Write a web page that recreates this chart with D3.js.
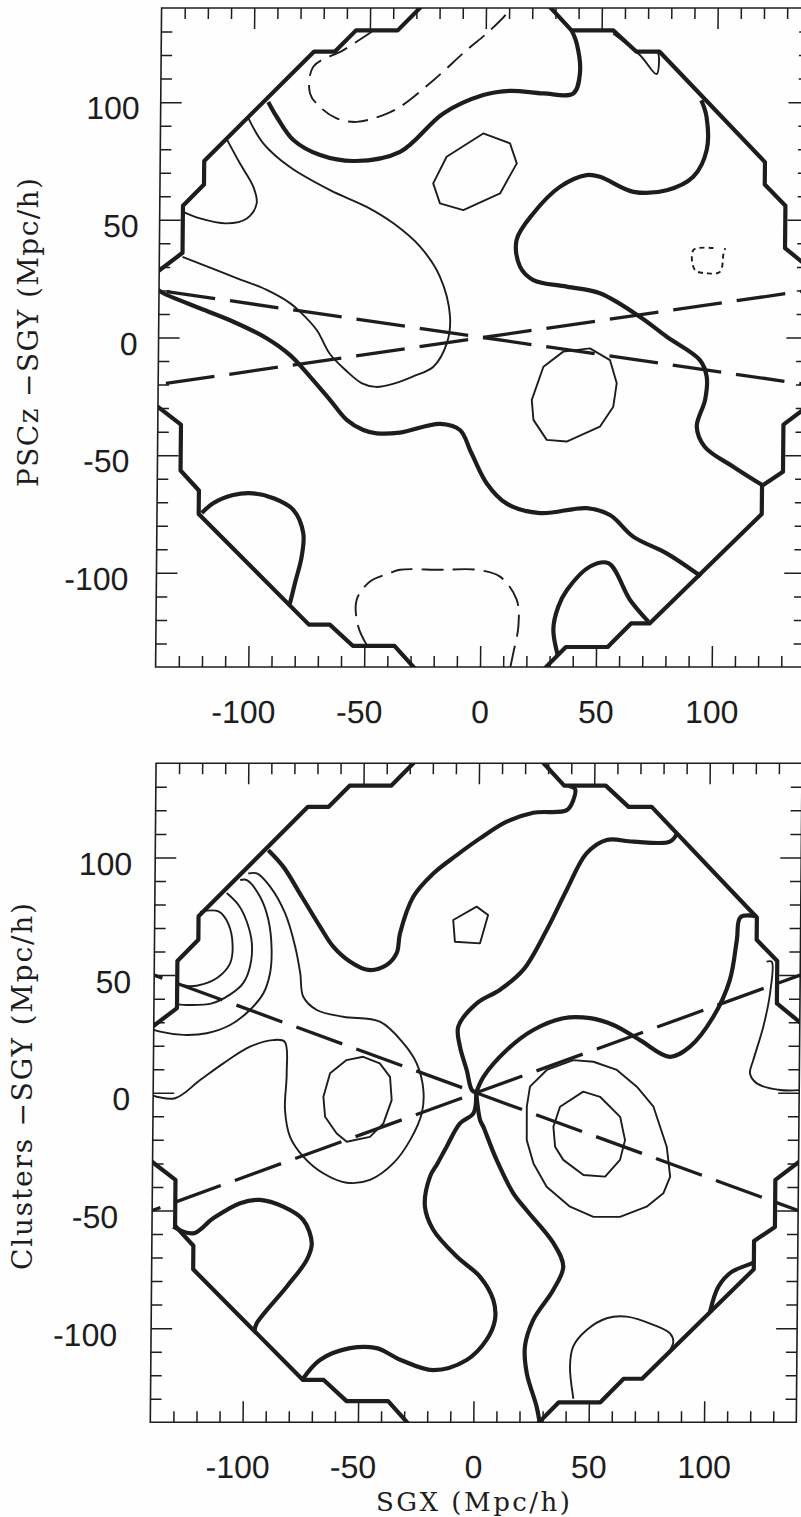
<!DOCTYPE html>
<html>
<head>
<meta charset="utf-8">
<script src="https://cdn.jsdelivr.net/npm/d3@7"></script>
<style>
  html, body { margin: 0; padding: 0; background: #fff; }
  svg { display: block; }
</style>
</head>
<body>
<svg id="chart" width="801" height="1517"></svg>
<script>
// ---------------- axis ticks ----------------
const majorTicks = [-100, -50, 0, 50, 100];
const minorTicks = [-130, -120, -110, -90, -80, -70, -60, -40, -30, -20, -10,
                    10, 20, 30, 40, 60, 70, 80, 90, 110, 120, 130];

// ---------------- survey edge (shared by both maps) ----------------
const surveyEdge = [
  [-150, 21], [-130, 36], [-130, 56], [-121, 65], [-121, 75], [-74, 121.5], [-65, 121.5],
  [-56, 130.5], [-38, 130.5], [-19, 149.5], [19, 149.5], [37, 130.5], [55, 130.5],
  [65, 121.5], [75, 121.5], [121, 74.5], [121, 65], [130, 56], [130, 38], [150, 22],
  [150, -22], [130, -37], [130, -57], [121, -63], [121, -75], [73, -121.5], [65, -121.5],
  [55, -131.5], [37, -131.5], [18, -150.5], [-19, -150.5], [-37, -131], [-55, -131],
  [-65, -122], [-74, -122], [-122, -75], [-122, -65], [-130, -56.5], [-130, -37], [-150, -22]
];

// ---------------- PSCz map ----------------
const psczZeroA = [[-93.6,100.1],[-89.9,93.8],[-82.6,83.9],[-71.0,77.5],[-55.9,75.0],[-36.5,78.9],[-18.0,95.2],[-0.8,103.0],[10.7,104.8],[25.1,103.7],[38.0,103.7],[40.8,112.2],[39.3,124.9],[37.0,130.6]];
const psczZeroE = [[-141,20.6],[-138.1,18.8],[-122.3,12.4],[-107.8,6.7],[-93.4,-0.3],[-83.3,-7.4],[-74.5,-16.6],[-65.8,-26.5],[-58.5,-35],[-51.3,-39.3],[-45.5,-40.7],[-35.5,-40.4],[-18.2,-36.7],[-9.6,-39.3],[-4.5,-49.2],[2.2,-62],[10.9,-70.6],[25.3,-74.6],[45.4,-72.5],[55.5,-75.4],[65.6,-84.6],[80.1,-91.7],[93.2,-100.2],[95,-101.5]];
const psczZeroF = [[93.3,100.8],[95.6,93.8],[95.8,79.6],[90.1,68.3],[78.7,62.6],[64.4,61.9],[49.8,68.3],[44.1,69],[32.6,64],[21.2,52.7],[14.1,41.4],[15.7,30.1],[21.5,24.4],[35.9,21.6],[50.3,18.8],[67.6,8.8],[79.3,0.3],[93.7,-9.6],[96.7,-16.6],[96.1,-26.5],[92.6,-37.9],[96.1,-46.4],[108.5,-54.9],[120.9,-62.6]];
const psczZeroK = [[-120.7,-74.6],[-115.8,-70.4],[-107.2,-66.9],[-98.6,-66.2],[-89.8,-68.3],[-81.2,-73.2],[-76.8,-83.1],[-77.4,-93.1],[-80.2,-104.4],[-82.3,-112.9],[-82.8,-114]];
const psczZeroM = [[33.5,-135],[31.5,-124],[33.5,-114.5],[37.3,-107.2],[47.1,-97.3],[55.0,-95.9],[64.5,-111.5],[72.5,-120.7]];

const psczPosC = [[-102,93],[-95.6,82.5],[-84,72.4],[-66.6,62.6],[-50.7,55.5],[-39.1,48.5],[-27.5,38.6],[-18.8,25.8],[-14.3,8.8],[-15.6,-2.5],[-21.3,-12.4],[-30,-16.5],[-38,-19.5],[-46,-21],[-52,-19.5],[-59,-14],[-66,-7],[-71.8,3.2],[-79.1,11],[-83.3,14.5],[-93.5,20.2],[-107.9,25.8],[-130,34.3]];
const psczPosD = [[-129.9,53.4],[-122.6,50.6],[-111.1,48.5],[-102.4,50.6],[-98.2,57],[-99.7,64],[-105.6,74],[-111.5,84.5]];
const psczPosH = [[55,129.2],[66.7,119.9],[73.9,111.9],[74.9,118.1],[74.5,121]];
const psczLoopG = [[-22.1,65.5],[-16.4,76.8],[-0.7,86.7],[10.9,82.5],[13.9,74],[6.8,61.2],[-9,54.1],[-19.1,57]];
const psczLoopJ = [[21.3,-26.5],[26.2,-12.4],[34.7,-6],[46.2,-4.6],[54.9,-9.6],[57.9,-19.4],[56.5,-29.4],[50.8,-37.9],[36.5,-44.2],[27.9,-43.5],[22.1,-35]];

const psczNegB = [[-49.2,129.9],[-61.4,122.1],[-74.3,115],[-75.6,103.7],[-71.3,98],[-64,93.1],[-55.4,91.6],[-43.9,94.5],[-36.7,98],[-22.4,109.3],[-8.2,122.1],[0.4,129.2],[8.9,137.6],[10.5,141]];
const psczNegI = [[99.1,38],[90.5,37.2],[91.2,28.7],[96.3,27.3],[102,27.9],[103.5,35.8],[104.2,38]];
const psczNegL = [[-49,-130.6],[-52.7,-122.8],[-53.5,-111.5],[-47.8,-103.7],[-39.2,-100.1],[-34.9,-98.7],[-17.6,-98.7],[-1.8,-98.7],[8.3,-101.6],[15.6,-111.5],[16.4,-122.8],[14.3,-134.1],[12.9,-141]];

const psczWedge = [[[-140, 20], [140, -20]], [[-140, -20], [140, 20]]];

// ---------------- Clusters map ----------------
const clZeroN = [[-91,103.1],[-84.4,96],[-76.3,83.3],[-68.3,70.6],[-62.5,62.1],[-55.1,55.7],[-47.2,52.2],[-39.3,54.3],[-35,59.3],[-33.6,67.8],[-28,83.3],[-19.4,93.2],[-9.3,101],[0.7,108.1],[12.2,115.2],[23.7,119],[38.2,120.1],[41,124.4],[41.7,129],[39,130.5]];
const clZeroTop = [[86,110],[83,106.7],[67.1,106.7],[55.6,107.4],[47,101.8],[38.5,86.3],[30,69.3],[20,52.3],[10,43.8],[-0.1,38],[-8,28.1],[-7.2,19.6],[-4.2,9.7],[-1.9,1.2],[0,0]];
const clZeroRight = [[0,0],[3.1,6.8],[13.1,18.2],[24.5,26.7],[37.5,31.7],[49.1,31.7],[59.2,28.8],[70.8,22.4],[83.8,15.3],[92.5,19.6],[102.5,32.3],[109.5,47.9],[112.4,64.9],[113.9,74.6],[121,75]];
const clZeroLower = [[0,0],[-1.1,-8.7],[-6.9,-13],[-12.6,-22.9],[-16.5,-30],[-19.7,-35.6],[-21.8,-48.2],[-18.1,-58.2],[-7.8,-69.6],[2.3,-78.1],[8.2,-88],[9,-96.5],[5.4,-105],[-3.1,-113.5],[-17.6,-117.8],[-31.7,-113.5],[-42.2,-108.5],[-53.7,-108.5],[-66.7,-113.5],[-74,-121.5]];
const clZeroDown = [[0,0],[1.8,-11.6],[3.2,-14.4],[9.1,-28.5],[16.5,-42.7],[22.4,-50],[34,-63.8],[38.4,-73.8],[34.2,-83.7],[25.6,-96.5],[22.1,-107.8],[23,-119.2],[27.4,-133.4],[28.9,-141]];
const clZeroQ = [[-130.8,-56.9],[-122.1,-59.7],[-113.5,-53.3],[-101.9,-46.9],[-93.3,-45.5],[-83.2,-48.4],[-74.5,-54],[-70.7,-63.9],[-72.8,-71],[-81.4,-82.4],[-94.3,-98],[-95.2,-101.2]];
const clZeroS = [[102.2,-93],[105.7,-82.4],[111.4,-76.1],[120.1,-72.5],[121,-72]];

const clPos1 = [[-120.4,76.9],[-112.4,77.1],[-108.1,71.9],[-106.1,62],[-107.2,54.9],[-112.2,49.2],[-118.7,46.2],[-124.4,45.3],[-130.4,46.5]];
const clPos2 = [[-108.9,84.9],[-103.8,79.9],[-100.1,72.8],[-97.8,63.6],[-98.5,53.7],[-101.4,46.6],[-107.1,41.7],[-114.9,38],[-124.4,37.3],[-130.5,37.7]];
const clPos3 = [[-103.1,90.4],[-100.2,90.4],[-94.4,83.3],[-90.7,73.4],[-89.2,60.7],[-89.8,50.8],[-92.6,42.3],[-98.4,35.2],[-106.9,28.8],[-117,25.3],[-127.1,24.6],[-137.2,26],[-141,27.2]];
const clPos4 = [[-99.6,93.2],[-95.9,93.2],[-90.1,87.6],[-83.5,76.3],[-79,62.1],[-76.7,50.8],[-75.3,40.8],[-69.4,35.2],[-57.9,32.3],[-42,30.2],[-31.7,21],[-25.9,12.5],[-22.9,1.2],[-23.5,-8.7],[-28.4,-20],[-35.6,-29.9],[-45.7,-37],[-55.8,-38.2],[-66,-34.2],[-74.7,-27.1],[-80.5,-18.7],[-82.8,-7.3],[-82.2,8.3],[-83.2,21.7],[-88.3,22.4],[-98.2,19.6],[-109.7,12.5],[-119.7,5.4],[-130.5,-2.3],[-141,-0.9]];
const clPosU = [[125.4,55.7],[127.6,55.7],[127,42.3],[124.2,28.1],[120,13.9],[118.6,8.3],[121.6,4],[131.7,1.2],[141,1.2]];
const clPosR = [[43.3,-130],[41.7,-116.3],[43,-107.8],[48.8,-100.8],[57.4,-95.8],[66.1,-95.1],[77.7,-98.6],[84.9,-102.2],[86.4,-105.7],[84.3,-110.5]];
const clLoopT5 = [[-66.2,-1.7],[-63.4,8.3],[-56.3,13.9],[-49.1,15.3],[-41.9,12.5],[-37.4,6.8],[-36.6,-3.1],[-40.1,-13],[-45.9,-18.7],[-55.9,-20.8],[-60.3,-17.3],[-65.4,-10.2]];
const clLoopO = [[-10.6,73.4],[-0.5,79.1],[4.5,75.5],[1.1,63.5],[-9.8,64.2]];
const clLoopV1 = [[22,-5.9],[23.3,2.6],[30.5,9.7],[42,13.9],[50.7,13.2],[60.9,9.7],[69.6,2.6],[76.9,-5.9],[82.8,-22.9],[84.4,-35.6],[81.5,-42.7],[74.3,-48.4],[62.8,-52.7],[51.3,-52.7],[41.1,-48.4],[30.9,-39.9],[25.1,-30],[22.1,-20.1]];
const clLoopV2 = [[33.6,-14.4],[36.4,-5.9],[46.4,0.5],[53.7,-1.7],[62.5,-10.2],[64.7,-20.1],[62.6,-28.5],[56.2,-35.6],[46.8,-34.9],[38,-28.5],[34.4,-22.9]];

const clWedge = [[[-140, 50], [140, -50]], [[-140, -50], [140, 50]]];

// ---------------- drawing ----------------
const INK = '#1d1d1d';
const svg = d3.select('#chart');
svg.append('rect').attr('width', 801).attr('height', 1517).attr('fill', '#fefefe');

function drawPanel(cfg) {
  const x = d3.scaleLinear().domain([-140, 140]).range(cfg.xRange);
  const y = d3.scaleLinear().domain([-140, 140]).range(cfg.yRange);
  const [xl, xr] = cfg.xRange;
  const [yb, yt] = cfg.yRange;

  // the whole sheet is slightly sheared; apply it about the bottom edge
  const g = svg.append('g')
    .attr('transform', `translate(0,${yb}) skewX(${cfg.shear}) translate(0,${-yb})`);

  g.append('clipPath').attr('id', cfg.id + '-clip')
    .append('rect').attr('x', xl).attr('y', yt).attr('width', xr - xl).attr('height', yb - yt);

  const plot = g.append('g').attr('clip-path', `url(#${cfg.id}-clip)`);

  const straight = d3.line().x(d => x(d[0])).y(d => y(d[1]));
  const smooth = d3.line().x(d => x(d[0])).y(d => y(d[1])).curve(d3.curveCatmullRom.alpha(0.5));
  const closed = d3.line().x(d => x(d[0])).y(d => y(d[1])).curve(d3.curveLinearClosed);

  const base = sel => sel.attr('fill', 'none').attr('stroke', INK)
    .attr('stroke-linejoin', 'round').attr('stroke-linecap', 'butt');

  // survey edge
  plot.append('path').attr('d', closed(surveyEdge)).call(base).attr('stroke-width', 4.2);

  // zero-level contours (heavy)
  cfg.zero.forEach(c => plot.append('path').attr('d', smooth(c)).call(base).attr('stroke-width', 4.2));
  // positive contours (light, solid)
  cfg.pos.forEach(c => plot.append('path').attr('d', smooth(c)).call(base).attr('stroke-width', 1.9));
  cfg.loops.forEach(c => plot.append('path').attr('d', closed(c)).call(base).attr('stroke-width', 1.9));
  // negative contours (light, dashed)
  cfg.neg.forEach(c => plot.append('path').attr('d', smooth(c.pts)).call(base)
    .attr('stroke-width', 1.9).attr('stroke-dasharray', c.dash));

  // zone-of-avoidance wedge
  const period = 64;
  cfg.wedge.forEach(seg => {
    const p = plot.append('path').attr('d', straight(seg)).call(base)
      .attr('stroke-width', 3.3).attr('stroke-dasharray', '49,15');
    const L = p.node().getTotalLength();
    p.attr('stroke-dashoffset', (period - (L / 2) % period) % period);
  });

  // frame
  g.append('rect').attr('x', xl).attr('y', yt).attr('width', xr - xl).attr('height', yb - yt)
    .attr('fill', 'none').attr('stroke', INK).attr('stroke-width', 1.6);

  const styleAxis = a => {
    a.select('.domain').remove();
    a.attr('color', INK);
    a.selectAll('line').attr('stroke-width', 1.5);
  };
  const fmt = d => String(d);

  // minor ticks, all four sides
  g.append('g').attr('transform', `translate(0,${yb})`)
    .call(d3.axisBottom(x).tickValues(minorTicks).tickSize(-11).tickFormat('')).call(styleAxis);
  g.append('g').attr('transform', `translate(0,${yt})`)
    .call(d3.axisTop(x).tickValues(minorTicks).tickSize(-11).tickFormat('')).call(styleAxis);
  g.append('g').attr('transform', `translate(${xl},0)`)
    .call(d3.axisLeft(y).tickValues(minorTicks).tickSize(-11).tickFormat('')).call(styleAxis);
  g.append('g').attr('transform', `translate(${xr},0)`)
    .call(d3.axisRight(y).tickValues(minorTicks).tickSize(-11).tickFormat('')).call(styleAxis);

  // major ticks with labels on bottom and left
  const bx = g.append('g').attr('transform', `translate(0,${yb})`)
    .call(d3.axisBottom(x).tickValues(majorTicks).tickSize(-21).tickPadding(cfg.xPad).tickFormat(fmt))
    .call(styleAxis);
  bx.selectAll('text').attr('dx', d => d < 0 ? -5 : 0);

  g.append('g').attr('transform', `translate(0,${yt})`)
    .call(d3.axisTop(x).tickValues(majorTicks).tickSize(-21).tickFormat('')).call(styleAxis);

  const ly = g.append('g').attr('transform', `translate(${xl},0)`)
    .call(d3.axisLeft(y).tickValues(majorTicks).tickSize(-21).tickPadding(cfg.yPad).tickFormat(fmt))
    .call(styleAxis);
  ly.selectAll('text').attr('dy', cfg.yDy).attr('dx', d => d < 0 ? cfg.negShift : 0);

  g.append('g').attr('transform', `translate(${xr},0)`)
    .call(d3.axisRight(y).tickValues(majorTicks).tickSize(-21).tickFormat('')).call(styleAxis);

  g.selectAll('.tick text')
    .attr('font-family', '"Liberation Sans", Arial, Helvetica, sans-serif')
    .attr('font-size', 32).attr('fill', INK);
}

drawPanel({
  id: 'pscz',
  xRange: [155.6, 804.4],
  yRange: [667, 8],
  shear: -0.52,
  xPad: 33, yPad: 21, yDy: '0.52em', negShift: -7,
  zero: [psczZeroA, psczZeroE, psczZeroF, psczZeroK, psczZeroM],
  pos: [psczPosC, psczPosD, psczPosH],
  loops: [psczLoopG, psczLoopJ],
  neg: [{ pts: psczNegB, dash: '20,9' }, { pts: psczNegI, dash: '5,4' }, { pts: psczNegL, dash: '22,9' }],
  wedge: psczWedge
});

drawPanel({
  id: 'clusters',
  xRange: [150.3, 796.3],
  yRange: [1422.3, 763.3],
  shear: -0.5,
  xPad: 33, yPad: 23, yDy: '0.53em', negShift: -11,
  zero: [clZeroN, clZeroTop, clZeroRight, clZeroLower, clZeroDown, clZeroQ, clZeroS],
  pos: [clPos1, clPos2, clPos3, clPos4, clPosU, clPosR],
  loops: [clLoopT5, clLoopO, clLoopV1, clLoopV2],
  neg: [],
  wedge: clWedge
});

// axis titles
const titleFont = '"DejaVu Serif", "Liberation Serif", serif';
svg.append('text')
  .attr('transform', 'translate(38,332.5) rotate(-90)')
  .attr('text-anchor', 'middle').attr('font-family', titleFont).attr('font-size', 28)
  .attr('fill', INK).attr('textLength', 309).attr('lengthAdjust', 'spacing')
  .text('PSCz \u2212SGY (Mpc/h)');
svg.append('text')
  .attr('transform', 'translate(31.5,1086.5) rotate(-90)')
  .attr('text-anchor', 'middle').attr('font-family', titleFont).attr('font-size', 28)
  .attr('fill', INK).attr('textLength', 367).attr('lengthAdjust', 'spacing')
  .text('Clusters \u2212SGY (Mpc/h)');
svg.append('text')
  .attr('x', 473).attr('y', 1511)
  .attr('text-anchor', 'middle').attr('font-family', titleFont).attr('font-size', 26)
  .attr('fill', INK).attr('textLength', 194).attr('lengthAdjust', 'spacing')
  .text('SGX (Mpc/h)');
</script>
</body>
</html>
